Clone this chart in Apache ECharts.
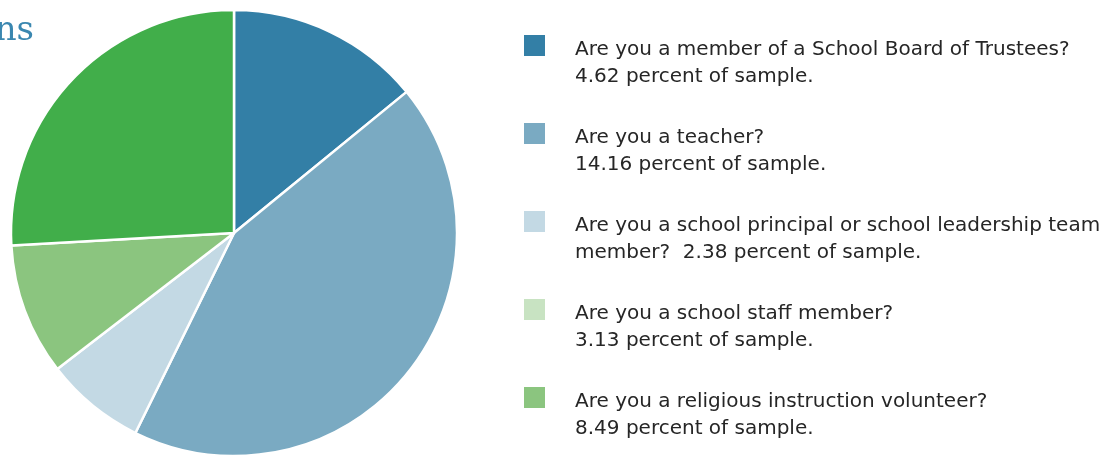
<!DOCTYPE html>
<html>
<head>
<meta charset="utf-8">
<script src="https://cdn.jsdelivr.net/npm/echarts@6/dist/echarts.min.js"></script>
<style>
  html, body { margin: 0; padding: 0; background: #ffffff; }
  #chart { width: 1103px; height: 455px; }
</style>
</head>
<body>
<div id="chart"></div>
<script>
// Survey questions and the share of the sample answering "yes"
const questions = [
  'Are you a member of a School Board of Trustees?',
  'Are you a teacher?',
  'Are you a school principal or school leadership team\nmember?',
  'Are you a school staff member?',
  'Are you a religious instruction volunteer?'
];
const percents = [4.62, 14.16, 2.38, 3.13, 8.49];

// Slice colours in the pie and swatch colours in the key
const sliceColors = ['#337fa6', '#7aaac2', '#c3d9e4', '#8bc57f', '#41ae4a'];
const keyColors = ['#337fa6', '#7aaac2', '#c3d9e4', '#c8e3c2', '#8bc57f'];

const titleText = 'Respondent positions';

const chart = echarts.init(document.getElementById('chart'), null, { renderer: 'canvas' });

const keyTop = 35, keyStep = 88, swatch = 21;
const keyItems = [];
questions.forEach((q, i) => {
  const top = keyTop + i * keyStep;
  const label = q + (q.indexOf('\n') >= 0 ? '  ' : '\n') + percents[i] + ' percent of sample.';
  keyItems.push({
    type: 'rect',
    shape: { x: 524, y: top, width: swatch, height: swatch },
    style: { fill: keyColors[i] }
  });
  keyItems.push({
    type: 'text',
    x: 575,
    y: top + 1,
    style: {
      text: label,
      fill: '#262626',
      font: '20px "DejaVu Sans"',
      lineHeight: 27.5,
      verticalAlign: 'top',
      align: 'left'
    }
  });
});

chart.setOption({
  animation: false,
  backgroundColor: '#ffffff',
  graphic: [
    {
      type: 'text',
      x: 34,
      y: 48,
      style: {
        text: titleText,
        fill: '#3a87b0',
        font: '34px "DejaVu Serif"',
        align: 'right',
        verticalAlign: 'bottom'
      }
    }
  ].concat(keyItems),
  series: [{
    type: 'pie',
    center: [234, 233],
    radius: 223,
    startAngle: 90,
    clockwise: true,
    label: { show: false },
    labelLine: { show: false },
    silent: true,
    itemStyle: { borderColor: '#ffffff', borderWidth: 2.5 },
    data: questions.map((q, i) => ({
      name: q,
      value: percents[i],
      itemStyle: { color: sliceColors[i] }
    }))
  }]
});
</script>
</body>
</html>
